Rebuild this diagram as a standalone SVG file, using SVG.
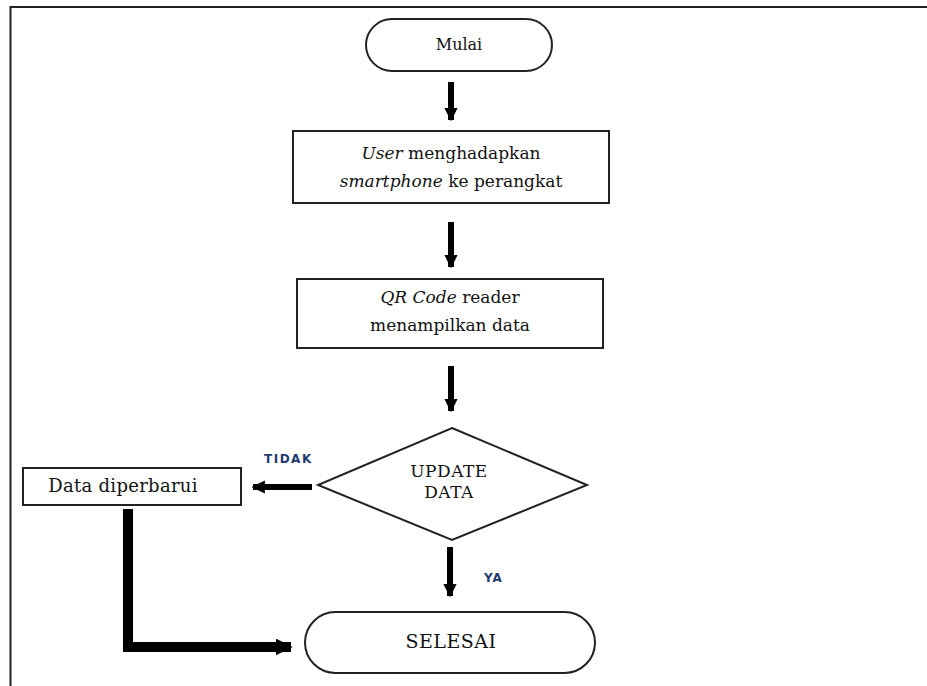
<svg xmlns="http://www.w3.org/2000/svg" width="927" height="686" viewBox="0 0 927 686">
<defs>
<style>
.box{fill:#fff;stroke:#222;stroke-width:2}
.t{font-family:"DejaVu Serif","Liberation Serif",serif;font-size:17px;fill:#111;text-anchor:middle}
.i{font-style:italic}
.lbl{font-family:"DejaVu Sans","Liberation Sans",sans-serif;font-size:12px;font-weight:bold;fill:#1f3a6e;letter-spacing:1px}
.ar{stroke:#000;stroke-width:6;fill:none}
.thick{stroke:#000;stroke-width:10;fill:none}
</style>
<marker id="ah" viewBox="0 0 10 10" refX="9" refY="5" markerWidth="2.2" markerHeight="2.2" orient="auto" markerUnits="strokeWidth">
<path d="M0,0 L10,5 L0,10 z" fill="#000"/>
</marker>
<marker id="ah2" viewBox="0 0 10 10" refX="9" refY="5" markerWidth="1.7" markerHeight="1.7" orient="auto" markerUnits="strokeWidth">
<path d="M0,0 L10,5 L0,10 z" fill="#000"/>
</marker>
</defs>
<rect width="927" height="686" fill="#fff"/>
<g id="frame">
<path d="M10.5,686 V7 H927" fill="none" stroke="#222" stroke-width="2"/>
</g>
<g id="connectors">
<path class="ar" d="M451,82 V120" marker-end="url(#ah)"/>
<path class="ar" d="M451,222 V267" marker-end="url(#ah)"/>
<path class="ar" d="M451,366 V411" marker-end="url(#ah)"/>
<path class="ar" d="M312,487 H253" marker-end="url(#ah)"/>
<path class="ar" d="M450,547 V596" marker-end="url(#ah)"/>
<path class="thick" d="M128,509 V647 H291" marker-end="url(#ah2)"/>
<text class="lbl" x="264" y="463" style="letter-spacing:1.5px">TIDAK</text>
<text class="lbl" x="484" y="582">YA</text>
</g>
<g id="mulai">
<rect class="box" x="366" y="19" width="186" height="52" rx="26" ry="26"/>
<text class="t" x="459" y="50" style="font-size:16px">Mulai</text>
</g>
<g id="user">
<rect class="box" x="293" y="131" width="316" height="72"/>
<text class="t" x="451" y="159"><tspan class="i">User</tspan> menghadapkan</text>
<text class="t" x="451" y="187"><tspan class="i">smartphone</tspan> ke perangkat</text>
</g>
<g id="qr">
<rect class="box" x="297" y="279" width="306" height="69"/>
<text class="t" x="450" y="303"><tspan class="i">QR Code</tspan> reader</text>
<text class="t" x="450" y="331">menampilkan data</text>
</g>
<g id="update">
<polygon class="box" points="452,428 587,485 452,540 318,485"/>
<text class="t" x="449" y="477" style="letter-spacing:0.5px">UPDATE</text>
<text class="t" x="449" y="498" style="letter-spacing:0.5px">DATA</text>
</g>
<g id="diperbarui">
<rect class="box" x="23" y="468" width="218" height="37"/>
<text class="t" x="123" y="492" style="font-size:18px;letter-spacing:0.3px">Data diperbarui</text>
</g>
<g id="selesai">
<rect class="box" x="305" y="612" width="290" height="61" rx="30.5" ry="30.5"/>
<text class="t" x="451" y="648" style="font-size:19px;letter-spacing:0.5px">SELESAI</text>
</g>
</svg>
